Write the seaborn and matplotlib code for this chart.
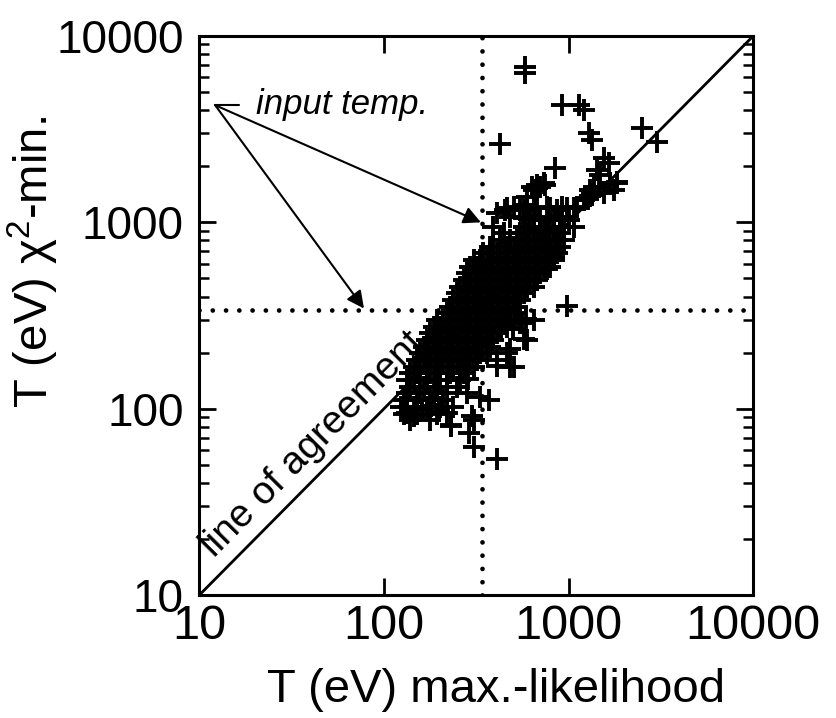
import numpy as np
import pandas as pd
import matplotlib
matplotlib.use('Agg')
import matplotlib.pyplot as plt
import seaborn as sns

# Values (eV)
input_temp = 340                     # dotted lines, true input temperature
axis_ticks = [10, 100, 1000, 10000]
tick_labels = ['10', '100', '1000', '10000']

# Dense band, one row per chi^2-min value: (T chi2, [T max-likelihood ...])
band_rows = [
    (1029, [620, 702, 796, 901, 1000]),
    (947, [570, 646, 732, 829, 940, 1064]),
    (873, [547, 595, 646, 702, 763, 829, 901]),
    (804, [483, 525, 570, 620, 674, 732, 796, 865, 940]),
    (740, [392, 426, 463, 504, 547, 595, 646, 702, 763, 829, 901]),
    (682, [346, 376, 409, 445, 483, 525, 570, 620, 674, 732, 796, 865]),
    (628, [306, 332, 361, 392, 426, 463, 504, 547, 595, 646, 702, 763, 829]),
    (578, [293, 319, 346, 376, 409, 445, 483, 525, 570, 620, 674, 732, 796]),
    (532, [281, 306, 332, 361, 392, 426, 463, 504, 547, 595, 646, 702]),
    (490, [270, 293, 319, 346, 376, 409, 445, 483, 525, 570, 620, 674]),
    (452, [259, 281, 306, 332, 361, 392, 426, 463, 504, 547, 595, 646]),
    (416, [248, 270, 293, 319, 346, 376, 409, 445, 483, 525, 570]),
    (383, [238, 259, 281, 306, 332, 361, 392, 426, 463, 504, 547]),
    (353, [229, 248, 270, 293, 319, 346, 376, 409, 445, 483, 525]),
    (325, [219, 238, 259, 281, 306, 332, 361, 392, 426, 463, 504]),
    (299, [194, 210, 229, 248, 270, 293, 319, 346, 376, 409, 445, 483]),
    (275, [186, 202, 219, 238, 259, 281, 306, 332, 361, 392, 426, 463]),
    (254, [178, 194, 210, 229, 248, 270, 293, 319, 346, 376, 409]),
    (234, [171, 186, 202, 219, 238, 259, 281, 306, 332, 361, 392]),
    (215, [164, 178, 194, 210, 229, 248, 270, 293, 319, 346, 376]),
    (198, [157, 171, 186, 202, 219, 238, 259, 281, 306, 332, 361]),
    (182, [151, 164, 178, 194, 210, 229, 248, 270, 293, 319]),
    (168, [145, 157, 171, 186, 202, 219, 238, 259, 281, 306]),
    (155, [139, 151, 178, 194, 229, 270]),
    (143, [133, 145, 171, 202, 219, 259]),
    (131, [139, 164, 194, 248]),
    (121, [133, 157, 186, 219, 281]),
    (111, [128, 151, 178, 210]),
    (102, [123, 145, 171, 202, 238]),
    (94, [128, 151, 194]),
    (87, [139, 178]),
]

# Scattered points around the band (max-likelihood, chi^2-min)
sparse_ml = [582, 582, 427, 920, 1132, 1205, 1282, 1337, 2495, 3013,
             847, 1549, 1648, 1422, 1482, 1681, 1310, 1549, 1827, 1754,
             733, 675, 633, 594, 454, 504, 570, 646, 795, 920, 1064, 1205,
             1337, 1343, 1276, 1452, 674, 746, 646, 702, 1365, 1680, 1827,
             463, 547, 595, 674, 763, 865, 980, 1110, 1205, 1310,
             409, 483, 570, 646, 829, 920, 392, 445, 426, 376,
             409, 463, 483, 504, 595, 646, 547, 410, 479, 574, 589, 500,
             431, 560, 829, 763, 980, 285, 370, 333, 300, 230, 290, 306,
             306, 409, 134, 145, 161, 179, 198, 220, 232]
sparse_chi = [6845, 6300, 2633, 4270, 4270, 4010, 3006, 2768, 3193, 2683,
              1950, 2205, 2073, 1910, 1795, 1620, 1492, 1432, 1620, 1492,
              1620, 1520, 1553, 1374, 1165, 1213, 1165, 1188, 1188, 1213, 1188, 1318,
              1402, 1419, 1334, 1540, 1585, 1585, 1500, 1545, 1545, 1620, 1650,
              1188, 1164, 1240, 1188, 1212, 1164, 1188, 1212, 1320, 1380,
              1117, 1072, 1050, 1072, 1029, 1072, 947, 873, 804, 740,
              182, 198, 168, 168, 233, 299, 288, 170, 209, 236, 302, 267,
              267, 290, 654, 565, 355, 144, 112, 116, 91, 82, 74, 87,
              62, 54, 95, 91, 99, 103, 97, 95, 81]

band_ml = [x for y, xs in band_rows for x in xs]
band_chi = [y for y, xs in band_rows for x in xs]
df = pd.DataFrame({'ml': band_ml + sparse_ml, 'chi': band_chi + sparse_chi})

sns.set_style('ticks')
plt.rcParams['font.family'] = ['Liberation Sans', 'DejaVu Sans']
plt.rcParams['mathtext.fontset'] = 'custom'
plt.rcParams['mathtext.rm'] = 'Liberation Sans'
plt.rcParams['text.color'] = 'black'
plt.rcParams['axes.labelcolor'] = 'black'
plt.rcParams['xtick.color'] = 'black'
plt.rcParams['ytick.color'] = 'black'

fig = plt.figure(figsize=(8.37, 7.18), dpi=100)
ax = fig.add_axes([0.238, 0.171, 0.662, 0.779])
ax.set_xscale('log')
ax.set_yscale('log')
ax.set_xlim(10, 10000)
ax.set_ylim(10, 10000)

# dotted input-temperature lines and the line of agreement
ax.axvline(input_temp, color='black', lw=3.4, ls=(0, (0.01, 2.8)), dash_capstyle='round', zorder=1)
ax.axhline(input_temp, color='black', lw=3.4, ls=(0, (0.01, 2.8)), dash_capstyle='round', zorder=1)
ax.plot(axis_ticks[::3], axis_ticks[::3], color='black', lw=2.0, zorder=2)

sns.scatterplot(data=df, x='ml', y='chi', marker='+', s=260, linewidth=2.8,
                color='black', ax=ax, zorder=3, legend=False)

# annotations
ax.text(20.2, 4300, 'input temp.', fontsize=25, style='italic', va='center', ha='left')
ax.plot([12.2, 16.5], [4250, 4250], color='black', lw=1.5)
for end in [(335, 1000), (78, 345)]:
    ax.annotate('', xy=end, xytext=(12.2, 4250),
                arrowprops=dict(arrowstyle='-|>', color='black', lw=1.5,
                                mutation_scale=26, shrinkA=0, shrinkB=0))
ax.text(12.0, 15.8, 'line of agreement', fontsize=28, rotation=45.3,
        rotation_mode='anchor', ha='left', va='baseline')

ax.set_xticks(axis_ticks)
ax.set_xticklabels(tick_labels)
ax.set_yticks(axis_ticks)
ax.set_yticklabels(tick_labels)
ax.tick_params(which='major', direction='in', top=True, right=True,
               length=12, width=2, color='black')
ax.tick_params(axis='x', which='major', pad=6, labelsize=35)
ax.tick_params(axis='y', which='major', pad=11, labelsize=33)
ax.tick_params(which='minor', direction='in', top=True, right=True,
               length=7, width=1.8)
for sp in ax.spines.values():
    sp.set_linewidth(2.2)
    sp.set_color('black')

ax.set_xlabel('T (eV) max.-likelihood', fontsize=34, va='center')
ax.set_ylabel(r'T (eV) χ$^{\mathrm{2}}$-min.', fontsize=34, va='center')
ax.xaxis.set_label_coords(0.536, -0.17)
ax.yaxis.set_label_coords(-0.30, 0.596)

fig.savefig('out.png', dpi=100)
